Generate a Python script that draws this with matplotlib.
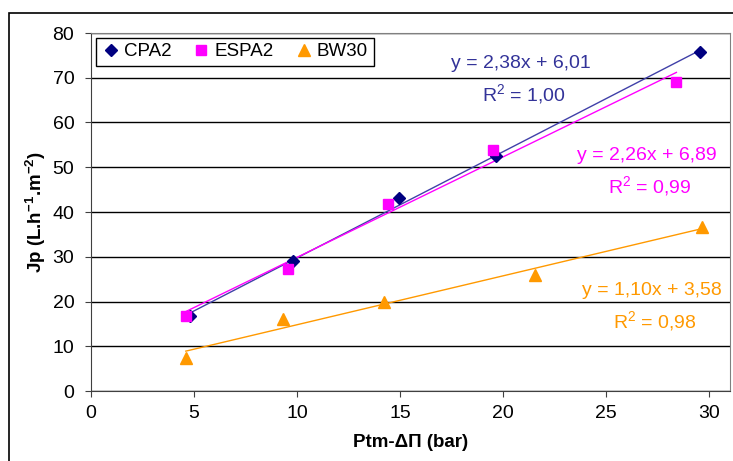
import numpy as np
import matplotlib
matplotlib.use("Agg")
import matplotlib.pyplot as plt
from matplotlib.patches import Rectangle

plt.rcParams['font.family'] = ['Liberation Sans', 'DejaVu Sans']
plt.rcParams['mathtext.fontset'] = 'custom'
plt.rcParams['mathtext.rm'] = 'Liberation Sans'
plt.rcParams['mathtext.it'] = 'Liberation Sans:italic'
plt.rcParams['mathtext.bf'] = 'Liberation Sans:bold'

# data
cpa2_x = [4.8, 9.8, 14.95, 19.66, 29.56]
cpa2_y = [16.8, 29.0, 43.1, 52.5, 75.7]
espa2_x = [4.6, 9.56, 14.4, 19.5, 28.4]
espa2_y = [16.8, 27.3, 41.8, 53.9, 69.0]
bw30_x = [4.6, 9.3, 14.2, 21.55, 29.66]
bw30_y = [7.4, 16.1, 19.9, 26.0, 36.7]

series = [
    ("CPA2", cpa2_x, cpa2_y, "#000080", "#4040a8", "D", 6.5, "y = 2,38x + 6,01", "1,00", "#333399"),
    ("ESPA2", espa2_x, espa2_y, "#ff00ff", "#ff00ff", "s", 7.5, "y = 2,26x + 6,89", "0,99", "#ff00ff"),
    ("BW30", bw30_x, bw30_y, "#ff9900", "#ff9900", "^", 8, "y = 1,10x + 3,58", "0,98", "#ff9900"),
]
# label centre positions in pixels (x, y of equation line)
label_pos = [(521, 63), (647, 155), (652, 290)]

W, H = 733, 461
fig = plt.figure(figsize=(W / 100, H / 100), dpi=100)
ax = fig.add_axes([91 / W, 1 - 391 / H, (730 - 91) / W, (391 - 33) / H])

for (name, xs, ys, mc, lc, mk, ms, eq, r2, tc), (px, py) in zip(series, label_pos):
    ax.plot(xs, ys, linestyle="none", marker=mk, color=mc, markersize=ms, label=name, zorder=3)
    a, b = np.polyfit(xs, ys, 1)
    xx = np.array([min(xs), max(xs)])
    ax.plot(xx, a * xx + b, color=lc, lw=1, zorder=2)
    fig.text(px / W, 1 - py / H, eq, color=tc, fontsize=14, ha="center", va="center")
    fig.text((px + 3) / W, 1 - (py + 31) / H, "R$^2$ = " + r2, color=tc, fontsize=14,
             ha="center", va="center")

ax.set_xlim(0, 31)
ax.set_ylim(0, 80)
ax.set_xticks(range(0, 31, 5))
ax.set_yticks(range(0, 81, 10))
ax.yaxis.grid(True, color="black", lw=1)
ax.set_axisbelow(True)
for s in ["top", "right"]:
    ax.spines[s].set_color("#808080")
for s in ["left", "bottom"]:
    ax.spines[s].set_color("#404040")
ax.tick_params(labelsize=14, length=4, color="#404040")
ax.tick_params(axis="x", pad=6)
ax.tick_params(axis="y", pad=8)

ax.set_xlabel("Ptm-ΔΠ (bar)", fontsize=13.5, fontweight="bold", labelpad=9)
ax.set_ylabel(r"Jp (L.h$^{\mathbf{-1}}$.m$^{\mathbf{-2}}$)", fontsize=13.5,
              fontweight="bold", labelpad=3)

leg = ax.legend(loc="upper left", ncol=3, fontsize=13.5, frameon=True, fancybox=False,
                edgecolor="black", framealpha=1, handletextpad=0.2, columnspacing=1.1,
                handlelength=1.0, borderaxespad=0.25, borderpad=0.3)
leg.get_frame().set_linewidth(1)

# outer chart border
fig.patches.append(Rectangle((9 / W, -0.05), 1.2, 1 - 13 / H + 0.05, transform=fig.transFigure,
                             fill=False, edgecolor="black", lw=1.2))

fig.savefig("out.png", dpi=100)
